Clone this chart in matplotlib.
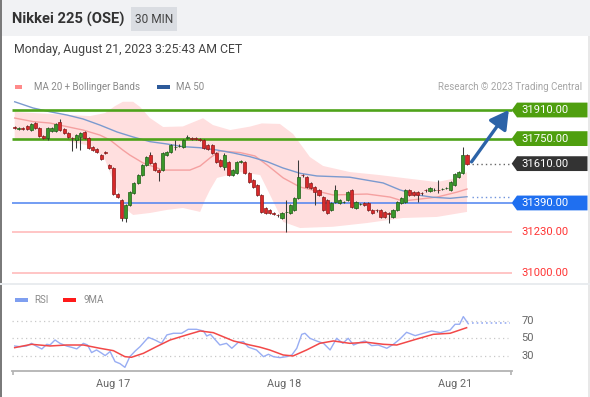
import matplotlib
matplotlib.use("Agg")
import matplotlib.pyplot as plt
from matplotlib.patches import Rectangle, Polygon

plt.rcParams['font.family'] = ['Roboto', 'DejaVu Sans']

# ---------------- data ----------------
opens = [31814, 31806, 31808, 31819, 31797, 31836, 31808, 31764, 31752, 31791,
         31791, 31842, 31803, 31780, 31754, 31741, 31758, 31786, 31752, 31702,
         31691, 31657, 31674, 31601, 31585, 31439, 31406, 31305, 31378, 31445,
         31501, 31546, 31601, 31657, 31613, 31574, 31574, 31657, 31674, 31702,
         31708, 31702, 31752, 31754, 31750, 31747, 31741, 31713, 31713, 31669,
         31629, 31590, 31618, 31546, 31557, 31618, 31618, 31557, 31518, 31490,
         31434, 31361, 31350, 31333, 31322, 31305, 31339, 31333, 31350, 31417,
         31546, 31534, 31501, 31478, 31462, 31422, 31406, 31350, 31394, 31389,
         31394, 31406, 31462, 31361, 31383, 31389, 31389, 31350, 31350, 31350,
         31339, 31333, 31311, 31350, 31389, 31394, 31462, 31450, 31450, 31445,
         31462, 31456, 31462, 31462, 31467, 31473, 31462, 31490, 31534, 31557,
         31657]
closes = [31812, 31808, 31805, 31803, 31831, 31808, 31764, 31752, 31808, 31808,
          31831, 31797, 31780, 31758, 31752, 31769, 31780, 31752, 31696, 31685,
          31674, 31635, 31669, 31585, 31439, 31422, 31305, 31378, 31450, 31501,
          31546, 31601, 31646, 31613, 31574, 31562, 31669, 31674, 31713, 31705,
          31710, 31741, 31758, 31750, 31748, 31745, 31696, 31691, 31669, 31618,
          31596, 31657, 31546, 31574, 31618, 31624, 31557, 31506, 31478, 31434,
          31339, 31333, 31333, 31330, 31320, 31333, 31341, 31378, 31417, 31534,
          31544, 31478, 31473, 31450, 31434, 31350, 31333, 31389, 31462, 31406,
          31396, 31450, 31367, 31394, 31385, 31378, 31350, 31333, 31348, 31311,
          31311, 31331, 31350, 31394, 31417, 31462, 31434, 31434, 31434, 31443,
          31460, 31473, 31464, 31460, 31469, 31475, 31506, 31551, 31562, 31657,
          31610]
highs = [31822, 31815, 31815, 31826, 31838, 31842, 31814, 31770, 31814, 31816,
         31838, 31859, 31810, 31786, 31760, 31776, 31787, 31792, 31758, 31708,
         31697, 31663, 31679, 31607, 31590, 31445, 31412, 31385, 31456, 31507,
         31552, 31607, 31652, 31674, 31619, 31580, 31675, 31681, 31720, 31741,
         31718, 31748, 31769, 31760, 31757, 31754, 31747, 31719, 31719, 31675,
         31635, 31669, 31624, 31580, 31624, 31630, 31625, 31563, 31524, 31496,
         31440, 31367, 31356, 31340, 31329, 31340, 31406, 31384, 31423, 31629,
         31553, 31540, 31507, 31484, 31468, 31428, 31412, 31395, 31490, 31412,
         31403, 31456, 31468, 31400, 31392, 31395, 31395, 31356, 31357, 31356,
         31345, 31340, 31356, 31400, 31423, 31468, 31468, 31456, 31456, 31452,
         31469, 31480, 31471, 31518, 31476, 31482, 31512, 31557, 31568, 31702,
         31663]
lows = [31806, 31800, 31799, 31797, 31790, 31802, 31758, 31746, 31745, 31785,
        31785, 31790, 31774, 31752, 31680, 31696, 31685, 31746, 31690, 31679,
        31668, 31629, 31663, 31579, 31433, 31416, 31288, 31283, 31372, 31439,
        31495, 31540, 31595, 31607, 31568, 31512, 31568, 31651, 31668, 31685,
        31702, 31696, 31746, 31744, 31742, 31739, 31690, 31685, 31663, 31612,
        31590, 31574, 31540, 31540, 31551, 31612, 31551, 31500, 31472, 31428,
        31333, 31327, 31327, 31324, 31314, 31299, 31227, 31327, 31344, 31411,
        31538, 31472, 31467, 31378, 31428, 31344, 31327, 31344, 31388, 31383,
        31388, 31400, 31361, 31355, 31377, 31372, 31344, 31327, 31342, 31305,
        31305, 31277, 31305, 31344, 31383, 31388, 31428, 31428, 31394, 31437,
        31454, 31450, 31456, 31445, 31461, 31467, 31456, 31484, 31528, 31551,
        31604]

ma20_x = [0, 4.5, 8.6, 12.7, 16.6, 20.7, 23.2, 26.3, 28, 31.2, 36.1, 42.6, 45.1, 47.5,
          49.9, 54.8, 58.4, 61.4, 65.3, 69.4, 77.4, 85.7, 91.3, 94.4, 102.7, 107.6, 110]
ma20_p = [31865, 31845, 31837, 31817, 31798, 31770, 31742, 31686, 31658, 31614, 31574,
          31574, 31597, 31642, 31681, 31672, 31653, 31602, 31530, 31479, 31435, 31440,
          31423, 31401, 31423, 31451, 31468]
upper_x = [0, 8.6, 18.3, 22, 24.4, 26.3, 28.8, 30.5, 32.9, 36.1, 40.9, 45.8, 48.2,
           52.4, 57.2, 60.1, 64.5, 67.7, 71.8, 75, 81.5, 88.8, 94.4, 102.7, 107.6, 110]
upper_p = [31899, 31888, 31876, 31893, 31932, 31956, 31956, 31927, 31865, 31815,
           31818, 31864, 31826, 31798, 31817, 31835, 31832, 31776, 31647, 31597,
           31563, 31546, 31530, 31507, 31530, 31563]
lower_x = [0, 12.7, 19, 22, 23.2, 24.9, 26.3, 28.8, 32.9, 37, 40.9, 45.1, 46.3, 47.5,
           49.2, 54.8, 59.7, 62.1, 65.3, 69.4, 77.4, 85.7, 94.4, 102.7, 110]
lower_p = [31745, 31738, 31705, 31630, 31558, 31463, 31369, 31323, 31334, 31351,
           31362, 31340, 31407, 31463, 31530, 31563, 31546, 31435, 31284, 31250,
           31257, 31278, 31306, 31312, 31340]
ma50_x = [0, 4.5, 8.6, 12.7, 16.6, 20.7, 24.9, 28.8, 32.9, 37, 41, 45.1, 49.2, 53.1,
          57.2, 61.4, 65.2, 69.4, 73.5, 81.5, 89.6, 93.7, 97.9, 101.7, 105.9, 110]
ma50_p = [31956, 31921, 31900, 31882, 31860, 31826, 31787, 31759, 31733, 31720, 31705,
          31699, 31686, 31670, 31649, 31621, 31586, 31556, 31541, 31534, 31502, 31463,
          31435, 31422, 31416, 31425]

resistances = [31910, 31750]
current_price = 31610
supports = [31390]
lower_levels = [31230, 31000]

rsi_x = [0, 1.3, 2.9, 4.1, 5.3, 6.6, 7.8, 8.6, 9.8, 11, 12.6, 13.9, 15.1, 16.7, 17.7,
         18.7, 19.9, 21.2, 22, 23.2, 24.4, 25.6, 26.8, 28, 29.3, 30.5, 32.5, 34.1, 35.7,
         37, 38.6, 40.6, 42.2, 44.2, 45.9, 46.7, 47.6, 49.9, 51.5, 52.8, 54.4, 55.6, 56.8,
         58.8, 60.5, 61.7, 62.9, 64.5, 66.1, 67.4, 68.6, 69.8, 70.6, 71.8, 73.4, 75.1,
         76.7, 78.3, 79.8, 81.1, 82.4, 84, 85.2, 86.8, 88.4, 90.5, 92.1, 93.7, 95.3, 97.4,
         99.4, 101.4, 103.5, 105.9, 107.1, 108.2, 109.1, 110.3]
rsi_v = [41.3, 40.5, 41.3, 44.3, 41, 37.9, 43.2, 42.5, 48.1, 44.3, 41.3, 39.7, 38, 44.3,
         42.5, 33.8, 36.8, 33, 30.4, 35, 23.6, 21.3, 17.1, 29.2, 35.6, 40.6, 51.1, 48.1,
         44.3, 53.8, 55.7, 55.7, 60.2, 60.2, 58.3, 52.6, 54.5, 42.4, 44.3, 38.7, 45.5,
         46.2, 40, 36.8, 29.2, 31.9, 29.2, 28.1, 29.2, 31.1, 38.7, 54.5, 55.7, 50, 47,
         44.3, 36.8, 50, 44.3, 50, 42.4, 45.5, 47, 41.7, 42.4, 38.7, 43.2, 49.2, 56.8,
         53, 55.7, 58.3, 56.4, 59.4, 65.9, 65.9, 74.6, 66.5]
ma9_x = [0, 4.1, 8.6, 12.6, 16.7, 20.7, 24, 26.8, 28.4, 31.3, 34.5, 37.8, 41.8, 45.1,
         48.3, 53.2, 57.2, 59.6, 62, 65.3, 67.7, 71, 74.2, 77.5, 81.5, 85.6, 89.7, 92.9,
         97.8, 101.8, 105.9, 109.9]
ma9_v = [39.4, 43.2, 41.3, 42.4, 42.4, 38.7, 36, 29.2, 28.5, 33, 40.6, 48.1, 53.8, 58.3,
         56.4, 47, 42.4, 40, 36.8, 31.1, 30, 36.8, 44.3, 47, 44.3, 45.5, 43.2, 42.4, 49.2,
         54.5, 55.7, 62]
rsi_levels = [30, 50, 70]
date_labels = ["Aug 17", "Aug 18", "Aug 21"]
date_pos = [23.9, 65.5, 107.1]

# ---------------- layout constants (pixels) ----------------
W, H = 590, 397
X0 = 14.7          # pixel x of first candle
STEP = 4.112       # pixels per candle
PY_REF, P_REF, PSC = 110.0, 31910.0, 0.1788   # price scale
RY_REF, RSC = 338.3, 0.8825                    # rsi scale (y of 50)


def ix(px):
    return (px - X0) / STEP


fig = plt.figure(figsize=(W / 100, H / 100), dpi=100)
fig.patch.set_facecolor('white')


def fx(x):
    return x / W


def fy(y):
    return 1 - y / H


def frect(x0, y0, x1, y1, color, z=0):
    fig.patches.append(Rectangle((fx(x0), fy(y1)), (x1 - x0) / W, (y1 - y0) / H,
                                 transform=fig.transFigure, facecolor=color,
                                 edgecolor='none', zorder=z))


# header
frect(0, 0, W, 36, '#f1f2f4')
frect(131, 7.3, 177, 30.7, '#dadde2', z=1)
fig.text(fx(12.5), fy(19.5), "Nikkei 225 (OSE)", fontsize=10.6, fontweight='bold',
         color='#333333', va='center', ha='left')
fig.text(fx(154), fy(19.5), "30 MIN", fontsize=8.6, color='#444444', va='center', ha='center')
fig.text(fx(14), fy(49.5), "Monday, August 21, 2023 3:25:43 AM CET", fontsize=8.8,
         color='#444444', va='center', ha='left')

# legend row
frect(15, 85, 22, 88.5, '#ff8a8a', z=1)
fig.text(fx(34), fy(86.8), "MA 20 + Bollinger Bands", fontsize=7, color='#8a8a8a',
         va='center', ha='left')
frect(157, 85, 170, 88.5, '#2d5a9a', z=1)
fig.text(fx(176), fy(86.8), "MA 50", fontsize=7, color='#8a8a8a', va='center', ha='left')
fig.text(fx(582), fy(86.8), "Research \u00a9 2023 Trading Central", fontsize=7,
         color='#a5a5a5', va='center', ha='right')

# borders
frect(0, 0, 1.5, H, '#7a7a7a', z=2)
frect(588, 36, W, H, '#e8e8e8', z=2)
frect(0, 282.5, W, 284.5, '#e9ecef', z=2)

# ---------------- main price axes ----------------
ax = fig.add_axes([fx(12), fy(285), (590 - 12) / W, (285 - 95) / H])
ax.set_xlim(ix(12), ix(590))
ax.set_ylim(P_REF - (285 - PY_REF) / PSC, P_REF + (PY_REF - 95) / PSC)
ax.axis('off')

TAG_X = ix(511.7)
RIGHT_X = ix(587.5)
n = len(closes)
last = n - 1

# Bollinger band fill
band_x = list(upper_x) + list(reversed(lower_x))
band_y = list(upper_p) + list(reversed(lower_p))
ax.fill(band_x, band_y, color='#ffdfdf', lw=0, zorder=1)
ax.plot(ma20_x, ma20_p, color='#f5a0a0', lw=1.0, zorder=2)
ax.plot(ma50_x, ma50_p, color='#7b9acf', lw=1.0, zorder=2)

# horizontal levels
for lv in resistances:
    ax.hlines(lv, ix(12), TAG_X, color='#4fa31a', lw=1.9, zorder=2.5)
for lv in supports:
    ax.hlines(lv, ix(12), TAG_X, color='#4d82f0', lw=1.1, zorder=2.5)
for lv in lower_levels:
    ax.hlines(lv, ix(12), TAG_X, color='#ffb5b5', lw=1.1, zorder=2.5)

# candles
for i, (o, h, l, c) in enumerate(zip(opens, highs, lows, closes)):
    up = c >= o
    face = '#3a972a' if up else '#d8292a'
    edge = '#1f5f17' if up else '#8e1b1b'
    ax.vlines(i, l, h, color='#3a3a3a', lw=0.75, zorder=3)
    hgt = max(abs(c - o), 3)
    ax.add_patch(Rectangle((i - 0.37, min(o, c)), 0.74, hgt, facecolor=face,
                           edgecolor=edge, lw=0.5, zorder=4))

# dotted extensions
ax.hlines(current_price, last + 1.2, TAG_X, color='#666666', lw=1.0,
          linestyles=(0, (1, 2.2)), zorder=2.5)
ax.hlines(ma50_p[-1], last + 1.2, ix(510), color='#6f93dc', lw=1.0,
          linestyles=(0, (1, 2.2)), zorder=2.5)


def tag(level, color):
    half = 7.4 / PSC
    pt = 5.3 / STEP
    poly = [(TAG_X, level), (TAG_X + pt, level + half), (RIGHT_X, level + half),
            (RIGHT_X, level - half), (TAG_X + pt, level - half)]
    ax.add_patch(Polygon(poly, closed=True, facecolor=color, edgecolor='none',
                         clip_on=False, zorder=6))
    ax.text(ix(521.5), level, f"{level:.2f}", color='white', fontsize=8.1,
            va='center', ha='left', clip_on=False, zorder=7)


for lv in resistances:
    tag(lv, '#4f9f0f')
tag(current_price, '#333333')
for lv in supports:
    tag(lv, '#1f6ff0')
for lv in lower_levels:
    ax.text(ix(521.5), lv, f"{lv:.2f}", color='#ff3535', fontsize=8.1,
            va='center', ha='left', clip_on=False, zorder=7)

# target arrow
ax.annotate('', xy=(TAG_X - 0.7, resistances[0]), xytext=(last + 1.1, current_price + 10),
            arrowprops=dict(arrowstyle='-|>,head_length=0.8,head_width=0.45',
                            mutation_scale=14, lw=2.4, color='#2c63a8',
                            shrinkA=0, shrinkB=0), zorder=8, annotation_clip=False)

# ---------------- RSI axes ----------------
rax = fig.add_axes([fx(12), fy(371), (512 - 12) / W, (371 - 290) / H])
rax.set_xlim(ix(12), ix(512))
rax.set_ylim(50 - (371 - RY_REF) / RSC, 50 + (RY_REF - 290) / RSC)
for s in ['top', 'right', 'left']:
    rax.spines[s].set_visible(False)
rax.spines['bottom'].set_color('#b3b3b3')
rax.spines['bottom'].set_linewidth(1.3)
rax.set_yticks([])
rax.set_xticks(date_pos)
rax.set_xticklabels(date_labels)
rax.tick_params(axis='x', which='major', length=0, pad=6, labelsize=7.8,
                labelcolor='#666666')
rax.set_xticks([ix(12.6), ix(511.4)], minor=True)
rax.tick_params(axis='x', which='minor', length=3.2, width=1.2, color='#b3b3b3',
                direction='out')
rax.patch.set_alpha(0)

for lv in rsi_levels:
    rax.hlines(lv, ix(12), ix(508), color='#c8c8c8', lw=0.9,
               linestyles=(0, (1, 2.6)), zorder=1)
    rax.text(ix(521.5), lv, str(lv), color='#666666', fontsize=8.0, va='center',
             ha='left', clip_on=False)

rax.plot(rsi_x, rsi_v, color='#98adf3', lw=1.0, zorder=2)
rax.plot(ma9_x, ma9_v, color='#f24848', lw=1.1, zorder=3)
rax.hlines(rsi_v[-1] + 1, rsi_x[-1] + 1, ix(510), color='#98adf3', lw=1.2,
           linestyles=(0, (1, 1.8)), zorder=2)

# RSI legend
frect(15, 298, 28, 301.5, '#7f9ff0', z=1)
fig.text(fx(34), fy(299.8), "RSI", fontsize=7, color='#8a8a8a', va='center', ha='left')
frect(63, 298, 76, 301.5, '#ff1a1a', z=1)
fig.text(fx(83), fy(299.8), "9MA", fontsize=7, color='#8a8a8a', va='center', ha='left')

fig.savefig("out.png", dpi=100)
